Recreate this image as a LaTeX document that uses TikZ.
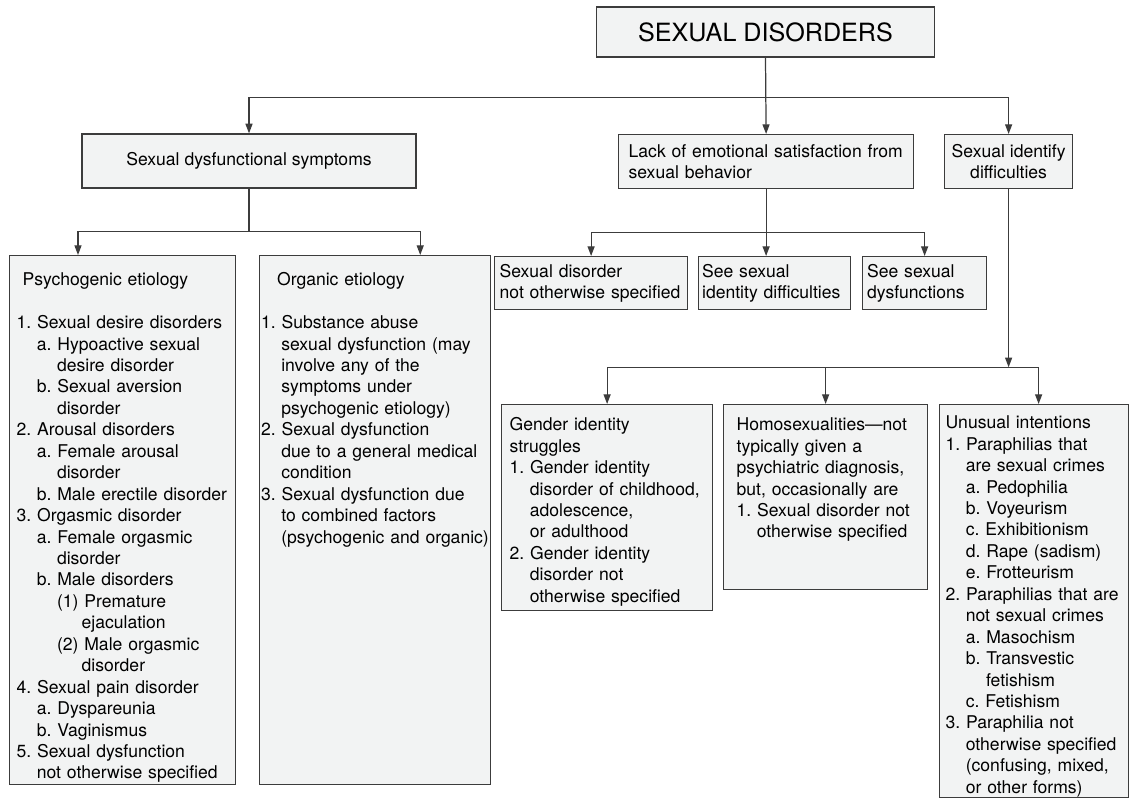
\documentclass[tikz,border=0pt]{standalone}
\usepackage{fontspec}
\setmainfont{TeX Gyre Heros}
\usetikzlibrary{arrows.meta}
\definecolor{boxfill}{HTML}{F2F3F3}
\definecolor{inkline}{HTML}{3C3C3C}
\newcommand{\ind}{\hspace*{1.15em}}
\frenchspacing
\hyphenpenalty=10000

\begin{document}
\begin{tikzpicture}[>={Triangle[length=5.5pt,width=4pt]}, line width=0.7pt,
  box/.style={draw=inkline, fill=boxfill, font=\fontsize{10}{12.2}\selectfont, align=left},
  head/.style={box, align=center, minimum height=1.08cm},
  note/.style={box, anchor=north west, minimum height=1.06cm},
  listbox/.style={box, anchor=north west, text height=7.5pt}]
\useasboundingbox (0,0) rectangle (22.6,-16);
\node[head, minimum width=6.76cm, minimum height=1.0cm, font=\fontsize{14.3}{17}\selectfont] (top) at (15.31,-0.64) {SEXUAL DISORDERS};
\node[head, minimum width=6.68cm] (dys) at (4.98,-3.22) {Sexual dysfunctional symptoms};
\node[note, minimum height=1.08cm, text width=5.5cm, inner xsep=0.2cm] (lack) at (12.36,-2.68) {Lack of emotional satisfaction from\\sexual behavior};
\node[head, anchor=north west, minimum width=2.56cm] (ident) at (18.88,-2.68) {Sexual identify\\difficulties};
\node[note, text width=3.66cm, inner xsep=0.1cm] (nos) at (9.88,-5.12) {Sexual disorder\\not otherwise specified};
\node[note, text width=2.9cm, inner xsep=0.07cm] (seeid) at (13.96,-5.12) {See sexual\\identity difficulties};
\node[note, text width=2.3cm, inner xsep=0.09cm] (seedys) at (17.24,-5.12) {See sexual\\dysfunctions};
% etiology lists
\node[listbox, inner xsep=0.14cm, inner ysep=0.34cm, text width=4.24cm, text depth=9.635cm] (psy) at (0.18,-5.10) {\hspace*{0.12cm}Psychogenic etiology\\[\baselineskip]
  1. Sexual desire disorders\\
  \ind a. Hypoactive sexual\\
  \ind\ind desire disorder\\
  \ind b. Sexual aversion\\
  \ind\ind disorder\\
  2. Arousal disorders\\
  \ind a. Female arousal\\
  \ind\ind disorder\\
  \ind b. Male erectile disorder\\
  3. Orgasmic disorder\\
  \ind a. Female orgasmic\\
  \ind\ind disorder\\
  \ind b. Male disorders\\
  \ind\ind (1) Premature\\
  \ind\ind\hspace*{1.4em}ejaculation\\
  \ind\ind (2) Male orgasmic\\
  \ind\ind\hspace*{1.4em}disorder\\
  4. Sexual pain disorder\\
  \ind a. Dyspareunia\\
  \ind b. Vaginismus\\
  5. Sexual dysfunction\\
  \ind not otherwise specified};
\node[listbox, inner xsep=0.03cm, inner ysep=0.34cm, text width=4.56cm, text depth=9.635cm] (org) at (5.18,-5.10) {\hspace*{0.32cm}Organic etiology\\[\baselineskip]
  1. Substance abuse\\
  \ind sexual dysfunction (may\\
  \ind involve any of the\\
  \ind symptoms under\\
  \ind psychogenic etiology)\\
  2. Sexual dysfunction\\
  \ind due to a general medical\\
  \ind condition\\
  3. Sexual dysfunction due\\
  \ind to combined factors\\
  \ind (psychogenic and organic)};
% identity lists
\node[listbox, inner xsep=0.16cm, inner ysep=0.26cm, text width=3.9cm, text depth=3.335cm] (gender) at (10.02,-8.08) {Gender identity\\
  struggles\\
  1. Gender identity\\
  \ind disorder of childhood,\\
  \ind adolescence,\\
  \ind or adulthood\\
  2. Gender identity\\
  \ind disorder not\\
  \ind otherwise specified};
\node[listbox, inner xsep=0.26cm, inner ysep=0.26cm, text width=3.56cm, text depth=2.915cm] (homo) at (14.46,-8.08) {Homosexualities---not\\
  typically given a\\
  psychiatric diagnosis,\\
  but, occasionally are\\
  1. Sexual disorder not\\
  \ind otherwise specified};
\node[listbox, inner xsep=0.12cm, inner ysep=0.22cm, text width=3.54cm, text depth=7.155cm] (unusual) at (18.78,-8.08) {Unusual intentions\\
  1. Paraphilias that\\
  \ind are sexual crimes\\
  \ind a. Pedophilia\\
  \ind b. Voyeurism\\
  \ind c. Exhibitionism\\
  \ind d. Rape (sadism)\\
  \ind e. Frotteurism\\
  2. Paraphilias that are\\
  \ind not sexual crimes\\
  \ind a. Masochism\\
  \ind b. Transvestic\\
  \ind\ind fetishism\\
  \ind c. Fetishism\\
  3. Paraphilia not\\
  \ind otherwise specified\\
  \ind (confusing, mixed,\\
  \ind or other forms)};
% connectors
\draw[->, inkline] (top.south) -- (lack.north);
\draw[->, inkline] (top.south) -- ++(0,-0.8) -| (dys.north);
\draw[->, inkline] (top.south) ++(0,-0.8) -| (ident.north);
\draw[->, inkline] (dys.south) -- ++(0,-0.86) -| ([xshift=1.38cm]psy.north west);
\draw[->, inkline] (dys.south) ++(0,-0.86) -| ([xshift=-1.42cm]org.north east);
\draw[->, inkline] (lack.south) -- (lack.south |- seeid.north);
\draw[->, inkline] (lack.south) ++(0,-0.86) -| (nos.north);
\draw[->, inkline] (lack.south) ++(0,-0.86) -| (seedys.north);
\draw[->, inkline] (ident.south) -- ++(0,-3.56) coordinate (fork);
\draw[->, inkline] (fork) -| (gender.north);
\draw[->, inkline] (fork) -| ([xshift=0.09cm]unusual.north);
\draw[->, inkline] (homo.north |- fork) -- (homo.north);
\end{tikzpicture}
\end{document}
